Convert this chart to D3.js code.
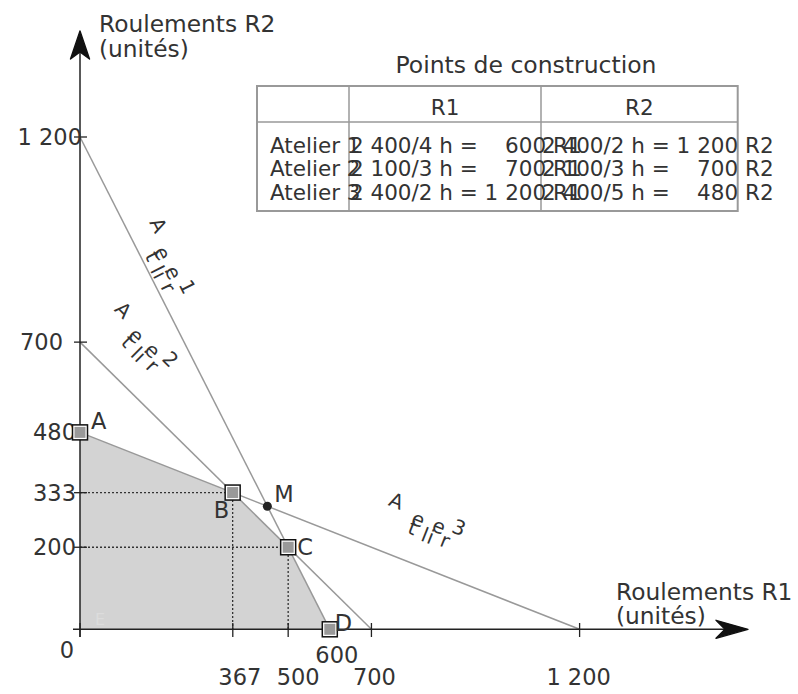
<!DOCTYPE html>
<html><head><meta charset="utf-8">
<script src="https://cdn.jsdelivr.net/npm/d3@7"></script>
<style>
body{margin:0;background:#fff}
text{font-family:"DejaVu Sans",sans-serif;fill:#333}
</style>
</head><body>
<svg id="c" width="798" height="694"></svg>
<script>
// ---------- data ----------
const workshops = ["Atelier 1", "Atelier 2", "Atelier 3"];
const hoursAvailable = [2400, 2100, 2400];
const hoursPerR1 = [4, 3, 2];
const hoursPerR2 = [2, 3, 5];
const xTicks = [0, 367, 500, 600, 700, 1200];
const yTicks = [200, 333, 480, 700, 1200];
const vertexNames = ["A", "B", "C", "D"];
const vertexR1 = [0, 366.67, 500, 600];
const vertexR2 = [480, 333.33, 200, 0];
const pointM = {name: "M", r1: 450, r2: 300};
const lineLabelR1 = [188, 104, 760];   // centre of the "A" of each rotated workshop label (data units)
const lineLabelR2 = [985, 778, 313];

const frFmt = d3.formatLocale({decimal: ",", thousands: " ", grouping: [3], currency: ["", " €"]}).format(",d");

// ---------- setup ----------
const svg = d3.select("#c");
const x = d3.scaleLinear([0, 1200], [80, 579.6]);
const y = d3.scaleLinear([0, 1200], [629.3, 137]);
const x0 = x(0), y0 = y(0);

const lines = workshops.map((w, i) => ({
  name: w,
  r1max: hoursAvailable[i] / hoursPerR1[i],
  r2max: hoursAvailable[i] / hoursPerR2[i]
}));
const vertices = vertexNames.map((n, i) => ({name: n, r1: vertexR1[i], r2: vertexR2[i]}));

// feasible region
const region = [[0, 0], ...vertices.map(v => [v.r1, v.r2])];
svg.append("path")
  .attr("d", d3.line().x(d => x(d[0])).y(d => y(d[1]))(region) + "Z")
  .attr("fill", "#d3d3d3");
svg.append("text").attr("x", 95).attr("y", 625).attr("font-size", 16)
  .style("fill", "#dcdcdc").text("E");

// constraint lines
svg.selectAll(".cl").data(lines).join("line").attr("class", "cl")
  .attr("x1", x(0)).attr("y1", d => y(d.r2max))
  .attr("x2", d => x(d.r1max)).attr("y2", y(0))
  .attr("stroke", "#999").attr("stroke-width", 1.5);

// dotted guides for B and C
[vertices[1], vertices[2]].forEach(v => {
  svg.append("path")
    .attr("d", `M${x0},${y(v.r2)}H${x(v.r1)}V${y0}`)
    .attr("fill", "none").attr("stroke", "#333").attr("stroke-width", 1.3)
    .attr("stroke-dasharray", "2,2");
});

// axes
svg.append("line").attr("x1", 73).attr("x2", 735).attr("y1", y0).attr("y2", y0)
  .attr("stroke", "#222").attr("stroke-width", 1.5);
svg.append("line").attr("x1", x0).attr("x2", x0).attr("y1", 637).attr("y2", 45)
  .attr("stroke", "#222").attr("stroke-width", 1.5);
svg.append("path").attr("d", `M748,${y0}L716,${y0 - 9}L725,${y0}L716,${y0 + 9}Z`)
  .attr("fill", "#111").attr("stroke", "#111").attr("stroke-width", 1.4).attr("stroke-linejoin", "round");
svg.append("path").attr("d", `M${x0},31L${x0 - 9.5},59L${x0},52L${x0 + 9.5},59Z`)
  .attr("fill", "#111").attr("stroke", "#111").attr("stroke-width", 1.4).attr("stroke-linejoin", "round");

// x ticks
svg.selectAll(".xt").data(xTicks).join("line").attr("class", "xt")
  .attr("x1", d => x(d)).attr("x2", d => x(d)).attr("y1", 623).attr("y2", 637)
  .attr("stroke", "#222").attr("stroke-width", 1.3);
const xLabLayout = {0: {dx: -13, y: 658}, 600: {dx: 7, y: 663}, 500: {dx: 10, y: 685}, 700: {dx: 3, y: 685}, 1200: {dx: -1, y: 685}};
svg.selectAll(".xl").data(xTicks).join("text").attr("class", "xl")
  .attr("x", d => x(d) + (xLabLayout[d] ? xLabLayout[d].dx : 7))
  .attr("y", d => xLabLayout[d] ? xLabLayout[d].y : 685)
  .attr("text-anchor", "middle").attr("font-size", 22.5)
  .text(d => frFmt(d));

// y ticks
svg.selectAll(".yt").data(yTicks).join("line").attr("class", "yt")
  .attr("x1", 74).attr("x2", 87).attr("y1", d => y(d)).attr("y2", d => y(d))
  .attr("stroke", "#222").attr("stroke-width", 1.3);
const yLabDx = {700: -13, 1200: 6};
svg.selectAll(".yl").data(yTicks).join("text").attr("class", "yl")
  .attr("x", d => 76 + (yLabDx[d] || 0)).attr("y", d => y(d)).attr("dy", "0.36em")
  .attr("text-anchor", "end").attr("font-size", 22.5)
  .text(d => frFmt(d));

// axis titles
const xt = svg.append("text").attr("font-size", 23.3);
xt.append("tspan").attr("x", 616).attr("y", 600).text("Roulements R1");
xt.append("tspan").attr("x", 616).attr("y", 624).text("(unités)");
const yt = svg.append("text").attr("font-size", 23.3);
yt.append("tspan").attr("x", 99).attr("y", 32).text("Roulements R2");
yt.append("tspan").attr("x", 99).attr("y", 57).text("(unités)");

// markers
const mk = svg.selectAll(".mk").data(vertices).join("g").attr("class", "mk")
  .attr("transform", d => `translate(${x(d.r1)},${y(d.r2)})`);
mk.append("rect").attr("x", -7.5).attr("y", -7.5).attr("width", 15).attr("height", 15)
  .attr("fill", "#fff").attr("stroke", "#111").attr("stroke-width", 1.5);
mk.append("rect").attr("x", -5.5).attr("y", -5.5).attr("width", 11).attr("height", 11)
  .attr("fill", "#999");
const ptLab = {A: [11, -3], B: [-19, 25], C: [9, 8], D: [5, 2]};
svg.selectAll(".pl").data(vertices).join("text").attr("class", "pl")
  .attr("x", d => x(d.r1) + ptLab[d.name][0]).attr("y", d => y(d.r2) + ptLab[d.name][1])
  .attr("font-size", 22.5).text(d => d.name);

svg.append("circle").attr("cx", x(pointM.r1)).attr("cy", y(pointM.r2)).attr("r", 4.5).attr("fill", "#222");
svg.append("text").attr("x", x(pointM.r1) + 7).attr("y", y(pointM.r2) - 4)
  .attr("font-size", 22.5).text(pointM.name);

// rotated (jumbled) workshop labels along each line: glyphs in two staggered rows
const glyphPlace = [[0, 0], [25, 19], [27, 9], [39, 21], [45, 21], [49, 8], [60, 19], null, [68, 2]];
lines.forEach((l, i) => {
  const ang = Math.atan2(y(0) - y(l.r2max), x(l.r1max) - x(0)) * 180 / Math.PI;
  const g = svg.append("g")
    .attr("transform", `translate(${x(lineLabelR1[i])},${y(lineLabelR2[i])}) rotate(${ang})`);
  l.name.split("").forEach((ch, k) => {
    if (!glyphPlace[k]) return;
    g.append("text").attr("x", glyphPlace[k][0]).attr("y", glyphPlace[k][1] + 7)
      .attr("text-anchor", "middle").attr("font-size", 20).text(ch);
  });
});

// ---------- table ----------
const tb = {left: 257, c1: 349, c2: 541, right: 737.7, top: 86, head: 122, bottom: 211};
svg.append("text").attr("x", 526).attr("y", 72.5).attr("text-anchor", "middle")
  .attr("font-size", 23.5).text("Points de construction");
const tg = svg.append("g");
tg.append("rect").attr("x", tb.left).attr("y", tb.top).attr("width", tb.right - tb.left)
  .attr("height", tb.bottom - tb.top).attr("fill", "none").attr("stroke", "#999").attr("stroke-width", 2);
[tb.c1, tb.c2].forEach(cx => tg.append("line").attr("x1", cx).attr("x2", cx)
  .attr("y1", tb.top).attr("y2", tb.bottom).attr("stroke", "#999").attr("stroke-width", 1.5));
tg.append("line").attr("x1", tb.left).attr("x2", tb.right).attr("y1", tb.head).attr("y2", tb.head)
  .attr("stroke", "#999").attr("stroke-width", 1.5);
tg.append("text").attr("x", (tb.c1 + tb.c2) / 2).attr("y", 114.5).attr("text-anchor", "middle")
  .attr("font-size", 21.5).text("R1");
tg.append("text").attr("x", (tb.c2 + tb.right) / 2).attr("y", 114.5).attr("text-anchor", "middle")
  .attr("font-size", 21.5).text("R2");
const pad = v => (v < 1000 ? "   " : "") + frFmt(v);
const rowY = [153, 176.3, 199.6];
workshops.forEach((w, i) => {
  const r1 = hoursAvailable[i] / hoursPerR1[i];
  const r2 = hoursAvailable[i] / hoursPerR2[i];
  tg.append("text").attr("x", 270).attr("y", rowY[i]).attr("font-size", 21.5).style("white-space", "pre").text(w);
  tg.append("text").attr("x", tb.c1 + 1).attr("y", rowY[i]).attr("font-size", 21.5).style("white-space", "pre")
    .text(`${frFmt(hoursAvailable[i])}/${hoursPerR1[i]} h = ${pad(r1)} R1`);
  tg.append("text").attr("x", tb.c2 + 1).attr("y", rowY[i]).attr("font-size", 21.5).style("white-space", "pre")
    .text(`${frFmt(hoursAvailable[i])}/${hoursPerR2[i]} h = ${pad(r2)} R2`);
});
</script>
</body></html>
